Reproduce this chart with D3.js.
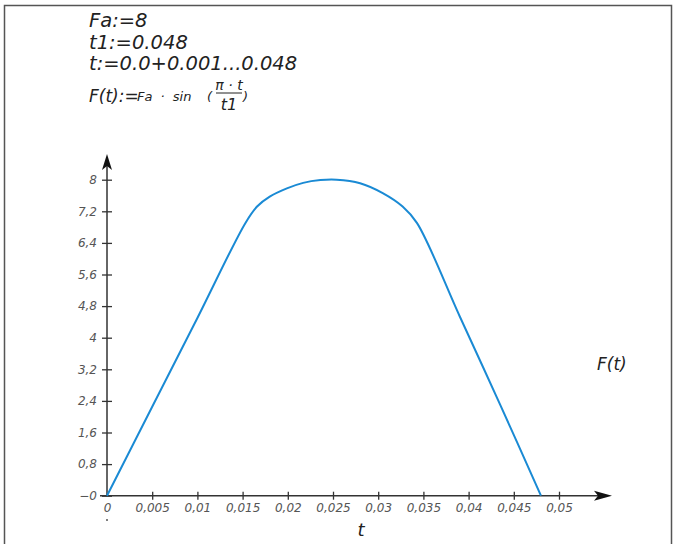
<!DOCTYPE html>
<html>
<head>
<meta charset="utf-8">
<script src="https://cdn.jsdelivr.net/npm/d3@7"></script>
<style>
  body { margin: 0; background: #fff; }
  svg text { font-family: "DejaVu Sans", sans-serif; font-style: italic; }
</style>
</head>
<body>
<svg id="chart" width="675" height="544"></svg>
<script>
// values
const tValues = [0, 0.005, 0.01, 0.0153, 0.0166, 0.018, 0.0199, 0.0217, 0.0236, 0.0254, 0.028, 0.0305, 0.0327, 0.0343, 0.039, 0.0435, 0.048];
const fValues = [0, 2.25, 4.5, 6.9, 7.32, 7.57, 7.78, 7.92, 7.99, 8.0, 7.91, 7.66, 7.32, 6.9, 4.55, 2.3, 0];

const xTicks = [0, 0.005, 0.01, 0.015, 0.02, 0.025, 0.03, 0.035, 0.04, 0.045, 0.05];
const xTickLabels = ["0", "0,005", "0,01", "0,015", "0,02", "0,025", "0,03", "0,035", "0,04", "0,045", "0,05"];
const yTicks = [0, 0.8, 1.6, 2.4, 3.2, 4, 4.8, 5.6, 6.4, 7.2, 8];
const yTickLabels = ["\u22120", "0,8", "1,6", "2,4", "3,2", "4", "4,8", "5,6", "6,4", "7,2", "8"];

const headerLines = ["Fa:=8", "t1:=0.048", "t:=0.0+0.001...0.048"];

const svg = d3.select("#chart");

// frame
svg.append("path")
    .attr("d", "M4.5,560 V5.5 H671.5 V560")
    .attr("fill", "none")
    .attr("stroke", "#555")
    .attr("stroke-width", 1.5);

// scales
const x = d3.scaleLinear().domain([0, 0.05]).range([107, 559]);
const y = d3.scaleLinear().domain([0, 8]).range([495.7, 179.7]);

// header definitions
svg.selectAll("text.hdr")
    .data(headerLines)
    .join("text")
    .attr("class", "hdr")
    .attr("x", 89)
    .attr("y", (d, i) => 27 + i * 21.5)
    .attr("font-size", 19.5)
    .attr("fill", "#222")
    .text(d => d);

const fLine = svg.append("g").attr("fill", "#222");
fLine.append("text").attr("x", 89).attr("y", 102).attr("font-size", 17).text("F(t):=");
fLine.append("text").attr("x", 137).attr("y", 101).attr("font-size", 13)
    .attr("word-spacing", 4).text("Fa \u00b7 sin");
fLine.append("text").attr("x", 207).attr("y", 101).attr("font-size", 13).text("(");
fLine.append("text").attr("x", 229).attr("y", 90).attr("font-size", 14).attr("text-anchor", "middle").text("\u03c0 \u00b7 t");
fLine.append("line").attr("x1", 216).attr("x2", 242).attr("y1", 93).attr("y2", 93)
    .attr("stroke", "#222").attr("stroke-width", 1);
fLine.append("text").attr("x", 229).attr("y", 110).attr("font-size", 16).attr("text-anchor", "middle").text("t1");
fLine.append("text").attr("x", 243).attr("y", 101).attr("font-size", 13).text(")");

// Y axis
const yAxisGroup = svg.append("g")
    .attr("transform", `translate(${x(0)},0)`)
    .call(d3.axisLeft(y).tickValues(yTicks).tickSize(5).tickPadding(5)
        .tickFormat((d, i) => yTickLabels[i]));
yAxisGroup.select(".domain").remove();
yAxisGroup.selectAll("line").attr("x1", 5).attr("stroke", "#333").attr("stroke-width", 1.3);
yAxisGroup.selectAll("text")
    .attr("fill", "#555")
    .attr("font-size", 12)
    .attr("font-family", "DejaVu Sans, sans-serif")
    .attr("font-style", "italic");

// X axis
const xAxisGroup = svg.append("g")
    .attr("transform", `translate(0,${y(0)})`)
    .call(d3.axisBottom(x).tickValues(xTicks).tickSize(4).tickPadding(4)
        .tickFormat((d, i) => xTickLabels[i]));
xAxisGroup.select(".domain").remove();
xAxisGroup.selectAll("line").attr("y1", -4).attr("stroke", "#333").attr("stroke-width", 1.3);
xAxisGroup.selectAll("text")
    .attr("fill", "#555")
    .attr("font-size", 12)
    .attr("font-family", "DejaVu Sans, sans-serif")
    .attr("font-style", "italic");
xAxisGroup.selectAll("line").filter(d => d === 0).remove();

// axis lines with arrow heads
svg.append("line")
    .attr("x1", x(0)).attr("x2", x(0))
    .attr("y1", y(0)).attr("y2", 160)
    .attr("stroke", "#333").attr("stroke-width", 1.5);
svg.append("path")
    .attr("d", `M${x(0)},154 L${x(0) - 5},170 L${x(0)},166 L${x(0) + 5},170 Z`)
    .attr("fill", "#111");
svg.append("line")
    .attr("x1", 100).attr("x2", 605)
    .attr("y1", y(0)).attr("y2", y(0))
    .attr("stroke", "#333").attr("stroke-width", 1.5);
svg.append("path")
    .attr("d", `M612,${y(0)} L594,${y(0) - 5} L598,${y(0)} L594,${y(0) + 5} Z`)
    .attr("fill", "#111");

// small dot under the zero label
svg.append("circle").attr("cx", x(0)).attr("cy", 520).attr("r", 1).attr("fill", "#555");

// axis titles
svg.append("text")
    .attr("x", 361).attr("y", 536)
    .attr("text-anchor", "middle")
    .attr("font-size", 18)
    .attr("fill", "#222")
    .text("t");
svg.append("text")
    .attr("x", 597).attr("y", 370)
    .attr("font-size", 17)
    .attr("fill", "#222")
    .text("F(t)");

// curve
const pts = tValues.map((t, i) => [t, fValues[i]]);
svg.append("path")
    .datum(pts)
    .attr("fill", "none")
    .attr("stroke", "#1a8ad4")
    .attr("stroke-width", 2)
    .attr("d", d3.line()
        .x(d => x(d[0]))
        .y(d => y(d[1]))
        .curve(d3.curveCatmullRom.alpha(0.5)));
</script>
</body>
</html>
